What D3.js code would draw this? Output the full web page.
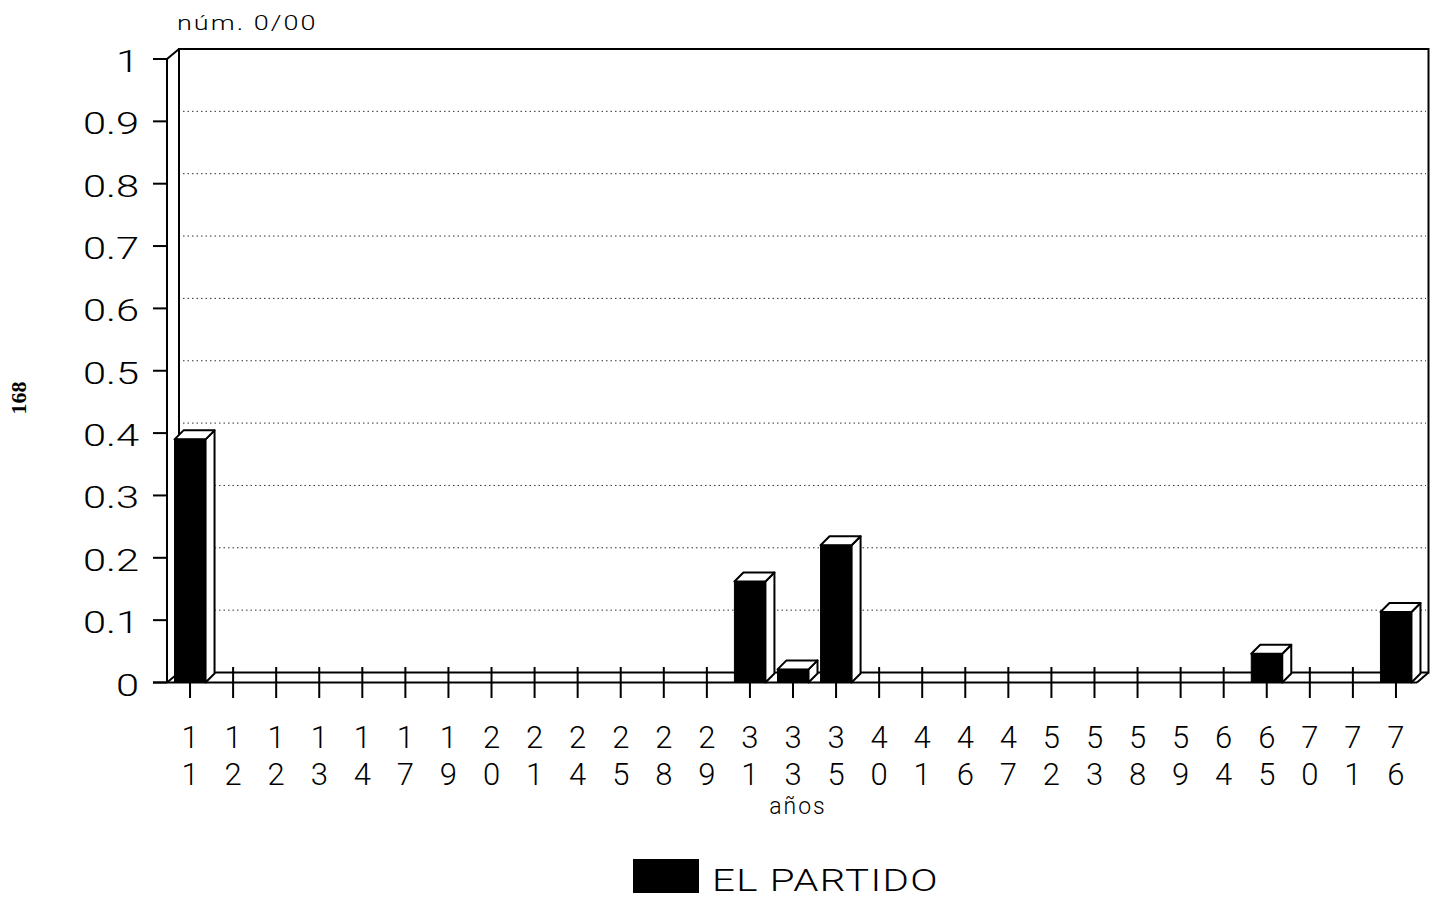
<!DOCTYPE html>
<html>
<head>
<meta charset="utf-8">
<script src="https://cdn.jsdelivr.net/npm/d3@7"></script>
<style>
  html, body { margin: 0; padding: 0; background: #fff; }
  svg { display: block; }
  text { font-family: Roboto, "Liberation Sans", Arial, sans-serif; font-weight: 300; fill: #000; }
</style>
</head>
<body>
<svg id="chart" width="1431" height="900"></svg>
<script>
// ---- data ----
const categories = ["11","12","12","13","14","17","19","20","21","24","25","28","29","31","33","35","40","41","46","47","52","53","58","59","64","65","70","71","76"];
const values     = [0.39,0,0,0,0,0,0,0,0,0,0,0,0,0.162,0.021,0.22,0,0,0,0,0,0,0,0,0,0.046,0,0,0.113];
const yTicks     = [0,0.1,0.2,0.3,0.4,0.5,0.6,0.7,0.8,0.9,1];
const yTickLabels= ["0","0.1","0.2","0.3","0.4","0.5","0.6","0.7","0.8","0.9","1"];
const seriesName = "EL PARTIDO";
const yTitle = "núm. 0/00";
const xTitle = "años";

const svg = d3.select("#chart");
const DX = 12, DY = -10;      // wall depth
const BD = 9;                 // bar depth
const x = d3.scaleBand().domain(d3.range(categories.length))
  .range([168.5, 1417.5]).paddingInner(0.28).paddingOuter(0.14);
const y = d3.scaleLinear().domain([0, 1]).range([682.5, 59]);
const xL = 167, xR = 1417;
const y0 = y(0), y1 = y(1);

// back wall
svg.append("rect").attr("x", xL + DX).attr("y", y1 + DY)
  .attr("width", 1428.5 - (xL + DX)).attr("height", y0 - y1)
  .attr("fill", "none").attr("stroke", "#000").attr("stroke-width", 2);

// gridlines on back wall
svg.append("g").selectAll("line").data(yTicks.filter(d => d > 0 && d < 1)).join("line")
  .attr("x1", xL + DX + 4).attr("x2", 1426)
  .attr("y1", d => y(d) + DY).attr("y2", d => y(d) + DY)
  .attr("stroke", "#333").attr("stroke-width", 1).attr("stroke-dasharray", "1.5,3");

// left side wall
const side = svg.append("g").attr("stroke", "#000").attr("stroke-width", 2).attr("fill", "none");
side.append("line").attr("x1", xL).attr("x2", xL).attr("y1", y1).attr("y2", y0);
side.append("line").attr("x1", xL).attr("x2", xL + DX).attr("y1", y1).attr("y2", y1 + DY);
side.append("line").attr("x1", xL).attr("x2", xL + DX).attr("y1", y0).attr("y2", y0 + DY);

// floor
side.append("line").attr("x1", 153).attr("x2", xR).attr("y1", y0).attr("y2", y0);
side.append("line").attr("x1", xR).attr("x2", 1428.5).attr("y1", y0).attr("y2", y0 + DY);

// y ticks
const yg = svg.append("g");
yg.selectAll("line").data(yTicks).join("line")
  .attr("x1", 153).attr("x2", xL).attr("y1", d => y(d)).attr("y2", d => y(d))
  .attr("stroke", "#000").attr("stroke-width", 2);
yg.selectAll("text").data(yTicks).join("text")
  .attr("transform", d => `translate(139,${y(d) + 13}) scale(1.3,1)`)
  .attr("text-anchor", "end").attr("font-size", 32)
  .text((d, i) => yTickLabels[i]);

// x ticks
const xg = svg.append("g");
xg.selectAll("line").data(d3.range(categories.length)).join("line")
  .attr("x1", i => x(i) + x.bandwidth() / 2).attr("x2", i => x(i) + x.bandwidth() / 2)
  .attr("y1", 667).attr("y2", 698)
  .attr("stroke", "#000").attr("stroke-width", 2);

// x labels (two stacked digits)
const lab = xg.selectAll("g.lab").data(categories).join("g").attr("class", "lab")
  .attr("transform", (d, i) => `translate(${x(i) + x.bandwidth() / 2},0)`);
lab.append("text").attr("y", 748).attr("text-anchor", "middle").attr("font-size", 31)
  .text(d => d[0]);
lab.append("text").attr("y", 785).attr("text-anchor", "middle").attr("font-size", 31)
  .text(d => d[1]);

// bars (3D)
const bars = svg.append("g").selectAll("g").data(values.map((v, i) => ({v, i})).filter(d => d.v > 0)).join("g");
bars.each(function(d) {
  const g = d3.select(this);
  const bx0 = x(d.i), bx1 = x(d.i) + x.bandwidth(), yt = y(d.v);
  g.append("polygon")
    .attr("points", [[bx1, yt], [bx1 + BD, yt - BD], [bx1 + BD, y0 - BD], [bx1, y0]].join(" "))
    .attr("fill", "#fff").attr("stroke", "#000").attr("stroke-width", 2).attr("stroke-linejoin", "round");
  g.append("polygon")
    .attr("points", [[bx0, yt], [bx0 + BD, yt - BD], [bx1 + BD, yt - BD], [bx1, yt]].join(" "))
    .attr("fill", "#fff").attr("stroke", "#000").attr("stroke-width", 2).attr("stroke-linejoin", "round");
  g.append("rect").attr("x", bx0).attr("y", yt).attr("width", bx1 - bx0).attr("height", y0 - yt)
    .attr("fill", "#000").attr("stroke", "#000").attr("stroke-width", 1);
});

// titles
svg.append("text").attr("transform", "translate(177,30) scale(1.35,1)")
  .attr("font-size", 20).attr("letter-spacing", 1.5).text(yTitle);
svg.append("text").attr("x", 798).attr("y", 814).attr("text-anchor", "middle")
  .attr("font-size", 23).attr("letter-spacing", 2).text(xTitle);

// legend
svg.append("rect").attr("x", 633).attr("y", 859).attr("width", 66).attr("height", 34).attr("fill", "#000");
svg.append("text").attr("transform", "translate(712,891) scale(1.3,1)")
  .attr("font-size", 31).attr("letter-spacing", 1).text(seriesName);

// page number
svg.append("text").attr("transform", "translate(26,398) rotate(-90)")
  .attr("text-anchor", "middle")
  .attr("font-size", 22).style("font-weight", "bold")
  .style("font-family", "'Liberation Serif', serif").text("168");
</script>
</body>
</html>
